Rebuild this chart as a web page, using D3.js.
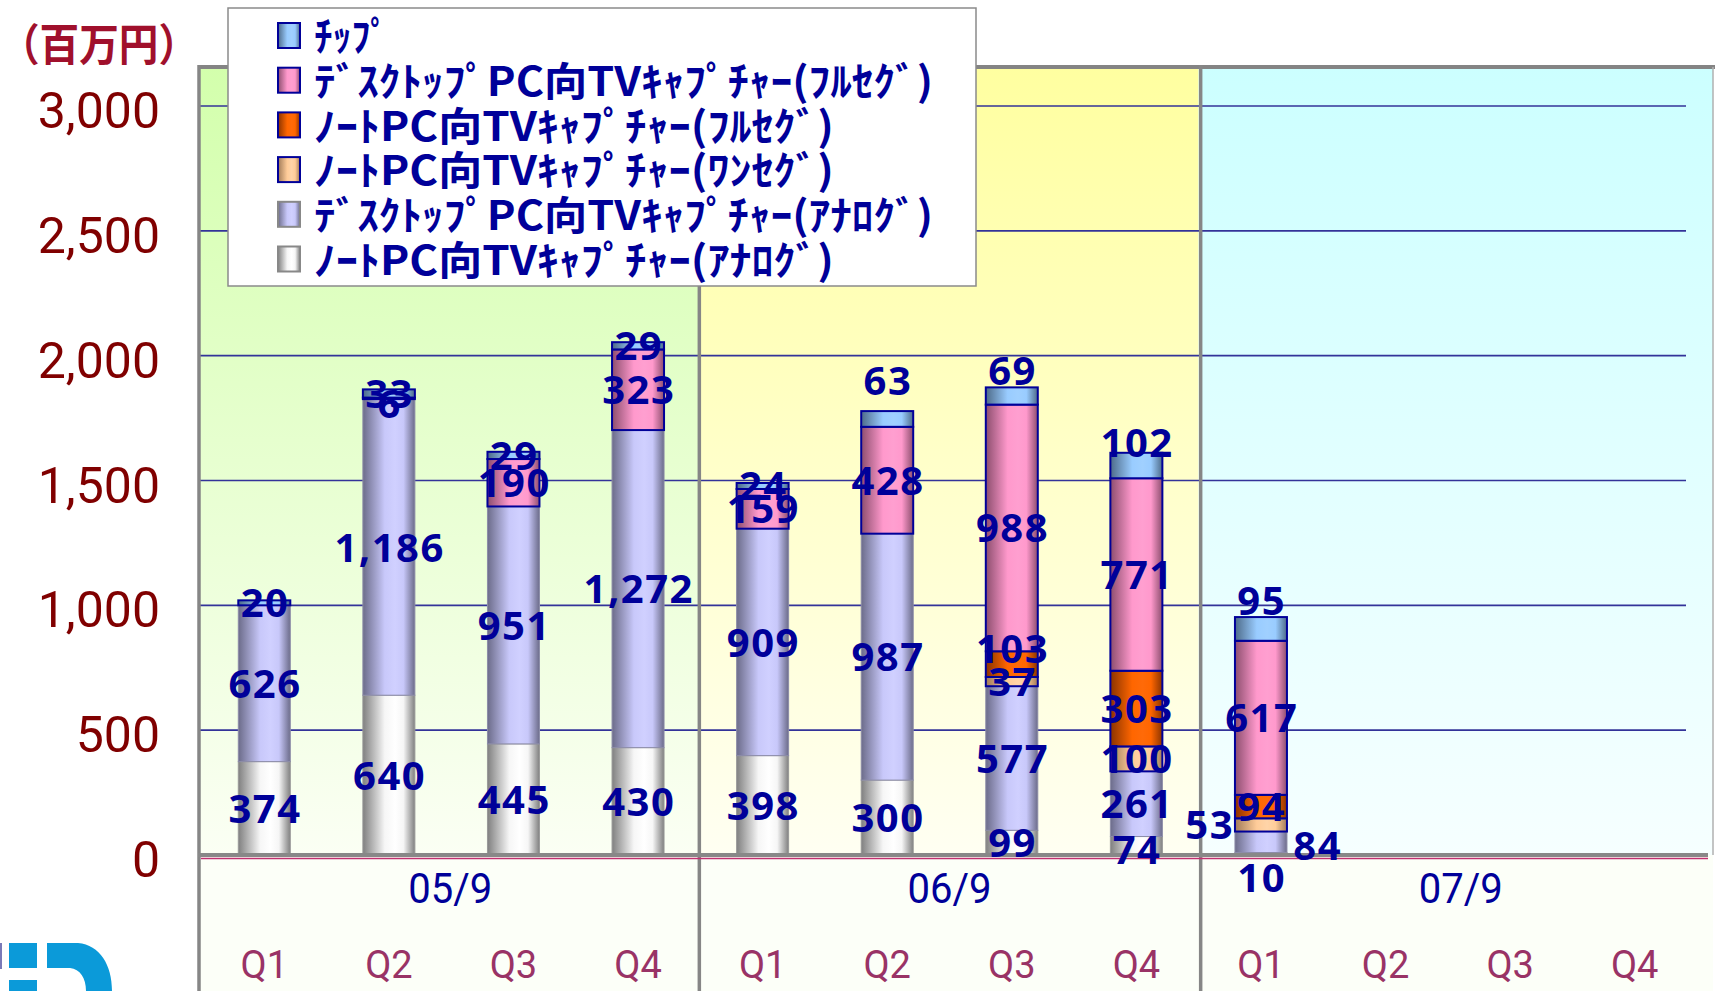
<!DOCTYPE html>
<html><head><meta charset="utf-8">
<script src="https://cdn.jsdelivr.net/npm/d3@7"></script>
<style>html,body{margin:0;padding:0;background:#fff;overflow:hidden}svg{display:block}</style>
</head><body>
<svg id="c" width="1717" height="991"></svg>
<script>
// ---------- DATA ----------
const quarters = ["Q1","Q2","Q3","Q4","Q1","Q2","Q3","Q4","Q1","Q2","Q3","Q4"];
const years = ["05/9","06/9","07/9"];
const yTicks = [0,500,1000,1500,2000,2500,3000];
const unitLabel = "（百万円）";

// stack order bottom -> top
const seriesKeys = ["noteAnalog","deskAnalog","noteOneSeg","noteFullSeg","deskFullSeg","chip"];
const seriesNames = {
  chip: "ﾁｯﾌﾟ",
  deskFullSeg: "ﾃﾞｽｸﾄｯﾌﾟPC向TVｷｬﾌﾟﾁｬｰ(ﾌﾙｾｸﾞ)",
  noteFullSeg: "ﾉｰﾄPC向TVｷｬﾌﾟﾁｬｰ(ﾌﾙｾｸﾞ)",
  noteOneSeg: "ﾉｰﾄPC向TVｷｬﾌﾟﾁｬｰ(ﾜﾝｾｸﾞ)",
  deskAnalog: "ﾃﾞｽｸﾄｯﾌﾟPC向TVｷｬﾌﾟﾁｬｰ(ｱﾅﾛｸﾞ)",
  noteAnalog: "ﾉｰﾄPC向TVｷｬﾌﾟﾁｬｰ(ｱﾅﾛｸﾞ)"
};
const legendOrder = ["chip","deskFullSeg","noteFullSeg","noteOneSeg","deskAnalog","noteAnalog"];

const noteAnalog  = [374, 640, 445, 430, 398, 300,  99,  74,  10];
const deskAnalog  = [626,1186, 951,1272, 909, 987, 577, 261,  84];
const noteOneSeg  = [  0,   0,   0,   0,   0,   0,  37, 100,  53];
const noteFullSeg = [  0,   0,   0,   0,   0,   0, 103, 303,  94];
const deskFullSeg = [  0,   6, 190, 323, 159, 428, 988, 771, 617];
const chip        = [ 20,  33,  29,  29,  24,  63,  69, 102,  95];
const seriesValues = {noteAnalog, deskAnalog, noteOneSeg, noteFullSeg, deskFullSeg, chip};

// ---------- STYLE ----------
const colors = {
  noteAnalog:  {base:"#f6f6f6", light:"#ffffff", dark:"#808080", stroke:"#999999"},
  deskAnalog:  {base:"#c8c8fa", light:"#d0d0ff", dark:"#6c6c8a", stroke:"#8c8ca8"},
  noteOneSeg:  {base:"#ffcc99", light:"#ffd4a8", dark:"#a07a58", stroke:"#000099"},
  noteFullSeg: {base:"#ff6600", light:"#ff6a08", dark:"#8a3300", stroke:"#000099"},
  deskFullSeg: {base:"#ff99cc", light:"#ff9fd0", dark:"#8c4e6e", stroke:"#000099"},
  chip:        {base:"#99ccff", light:"#a0d0ff", dark:"#4d6a88", stroke:"#000099"}
};
// manual label nudges [series, quarterIndex, dx, dy] (pixels)
const labelNudges = [
  ["chip",5,0,-38],["chip",6,0,-25],["chip",7,0,-23],["chip",8,0,-28],
  ["noteFullSeg",6,0,-16],["deskFullSeg",1,0,5],
  ["noteOneSeg",8,-52,0],["deskAnalog",8,56,4],["noteAnalog",8,0,24],["noteAnalog",7,0,4]
];

// ---------- LAYOUT ----------
const W=1717,H=991;
const plotL=200, plotR=1713, plotT=67, axisY=855;
const svg = d3.select("#c");
const defs = svg.append("defs");

const x = d3.scaleBand().domain(d3.range(12)).range([202,1697]);
const y = d3.scaleLinear().domain([0,3000]).range([axisY,106]);
const barW = 52;

// gradients
Object.entries(colors).forEach(([k,c])=>{
  const g = defs.append("linearGradient").attr("id","g_"+k).attr("x1",0).attr("x2",1).attr("y1",0).attr("y2",0);
  g.append("stop").attr("offset","0%").attr("stop-color",c.dark);
  g.append("stop").attr("offset","42%").attr("stop-color",c.base);
  g.append("stop").attr("offset","62%").attr("stop-color",c.light);
  g.append("stop").attr("offset","78%").attr("stop-color",c.base);
  g.append("stop").attr("offset","100%").attr("stop-color",c.dark);
});
const bgDefs = [["bg0","#d3ffac","#fbfff4"],["bg1","#ffffa0","#fffff2"],["bg2","#ccffff","#f6ffff"]];
bgDefs.forEach(([id,top,bot])=>{
  const g = defs.append("linearGradient").attr("id",id).attr("x1",0).attr("x2",0).attr("y1",0).attr("y2",1);
  g.append("stop").attr("offset","0%").attr("stop-color",top);
  g.append("stop").attr("offset","100%").attr("stop-color",bot);
});

const sep1 = x(4), sep2 = x(8);
const groupX = [[plotL,sep1],[sep1,sep2],[sep2,plotR]];

// below-axis background
svg.append("rect").attr("x",plotL).attr("y",axisY).attr("width",plotR-plotL).attr("height",H-axisY).attr("fill","#fcfff8");
// plot backgrounds
groupX.forEach(([a,b],i)=>{
  svg.append("rect").attr("x",a).attr("y",plotT).attr("width",b-a).attr("height",axisY-plotT).attr("fill",`url(#bg${i})`);
});

// gridlines
svg.append("g").selectAll("line").data(yTicks.filter(d=>d>0)).join("line")
  .attr("x1",plotL).attr("x2",1686).attr("y1",d=>y(d)).attr("y2",d=>y(d))
  .attr("stroke","#333399").attr("stroke-width",1.6);

// frame lines
svg.append("line").attr("x1",plotL-1).attr("x2",plotR+2).attr("y1",plotT).attr("y2",plotT).attr("stroke","#848484").attr("stroke-width",4);
svg.append("line").attr("x1",plotR).attr("x2",plotR).attr("y1",plotT).attr("y2",axisY).attr("stroke","#b0b0b0").attr("stroke-width",1.5);
[plotL-1, sep1-1, sep2+2].forEach(xx=>{
  svg.append("line").attr("x1",xx).attr("x2",xx).attr("y1",plotT-2).attr("y2",H).attr("stroke","#868686").attr("stroke-width",3.5);
});

// stacked bars
const rows = d3.range(9).map(i=>{ const r={i}; seriesKeys.forEach(k=>r[k]=seriesValues[k][i]); return r; });
const stacked = d3.stack().keys(seriesKeys)(rows);
const barG = svg.append("g");
stacked.forEach(layer=>{
  const k = layer.key;
  barG.append("g").selectAll("rect").data(layer.filter(d=>d[1]-d[0]>0)).join("rect")
    .attr("x",d=>x(d.data.i)+x.bandwidth()/2-barW/2)
    .attr("width",barW)
    .attr("y",d=>y(d[1]))
    .attr("height",d=>y(d[0])-y(d[1]))
    .attr("fill",`url(#g_${k})`)
    .attr("stroke",colors[k].stroke)
    .attr("stroke-width",k.indexOf("Analog")>=0?1:2);
});

// x axis line
svg.append("line").attr("x1",plotL-2).attr("x2",1708).attr("y1",axisY).attr("y2",axisY).attr("stroke","#888888").attr("stroke-width",4);
svg.append("line").attr("x1",plotL+1).attr("x2",1708).attr("y1",axisY+3.5).attr("y2",axisY+3.5).attr("stroke","#c03070").attr("stroke-width",1.5);

// value labels
const nud = {};
labelNudges.forEach(([k,i,dx,dy])=>nud[k+"_"+i]=[dx,dy]);
const labG = svg.append("g").attr("font-family","'Noto Sans', 'Open Sans', sans-serif").attr("font-weight","bold")
  .attr("font-size",40).attr("letter-spacing",1.5).attr("fill","#000099").attr("text-anchor","middle");
stacked.forEach(layer=>{
  const k = layer.key;
  layer.filter(d=>d[1]-d[0]>0).forEach(d=>{
    const n = nud[k+"_"+d.data.i] || [0,0];
    labG.append("text")
      .attr("x",x(d.data.i)+x.bandwidth()/2+n[0]+0.75)
      .attr("y",y((d[0]+d[1])/2)+n[1])
      .attr("dy","0.36em")
      .text(d3.format(",")(d[1]-d[0]));
  });
});

// y tick labels
svg.append("g").selectAll("text").data(yTicks).join("text")
  .attr("x",160).attr("y",d=>y(d)+4).attr("dy","0.36em")
  .attr("text-anchor","end").attr("font-family","Roboto, sans-serif").attr("font-size",50)
  .attr("fill","#800000").text(d=>d3.format(",")(d));

// unit
svg.append("text").attr("x",0).attr("y",61).attr("font-family","'Noto Sans CJK JP', sans-serif")
  .attr("font-size",44).attr("font-weight",700).attr("fill","#a0102c")
  .attr("textLength",198).attr("lengthAdjust","spacingAndGlyphs").text(unitLabel);

// category labels
svg.append("g").selectAll("text").data(quarters).join("text")
  .attr("x",(d,i)=>x(i)+x.bandwidth()/2).attr("y",964).attr("dy","0.36em")
  .attr("text-anchor","middle").attr("font-family","Roboto, sans-serif").attr("font-size",38)
  .attr("fill","#993366").text(d=>d);
svg.append("g").selectAll("text").data(years).join("text")
  .attr("x",(d,i)=>(groupX[i][0]+groupX[i][1])/2+(i===2?5:0)).attr("y",888).attr("dy","0.36em")
  .attr("text-anchor","middle").attr("font-family","Roboto, sans-serif").attr("font-size",42)
  .attr("fill","#000099").attr("textLength",84).attr("lengthAdjust","spacingAndGlyphs").text(d=>d);

// legend
const lg = svg.append("g");
lg.append("rect").attr("x",228).attr("y",8).attr("width",748).attr("height",278)
  .attr("fill","#ffffff").attr("stroke","#8a8a8a").attr("stroke-width",1.5);
const textW = {chip:75, deskFullSeg:619, noteFullSeg:520, noteOneSeg:520, deskAnalog:619, noteAnalog:520};
legendOrder.forEach((k,i)=>{
  const cy = 36 + i*44.7;
  lg.append("rect").attr("x",278).attr("y",cy-13).attr("width",22).attr("height",25)
    .attr("fill",`url(#g_${k})`).attr("stroke",k.indexOf("Analog")>=0?"#888888":"#000099").attr("stroke-width",2);
  lg.append("text").attr("x",314).attr("y",cy).attr("dy","0.38em")
    .attr("font-family","'Noto Sans CJK JP', sans-serif").attr("font-weight","bold").attr("font-size",40)
    .attr("fill","#000099").attr("textLength",textW[k]).attr("lengthAdjust","spacingAndGlyphs")
    .text(seriesNames[k]);
});

// logo fragment
const logo = svg.append("g").attr("fill","#0b9ad9");
logo.append("rect").attr("x",0).attr("y",943).attr("width",2).attr("height",26).attr("fill","#7a7ab8");
logo.append("rect").attr("x",9).attr("y",943).attr("width",28).attr("height",25);
logo.append("rect").attr("x",9).attr("y",980).attr("width",28).attr("height",11);
logo.append("path").attr("d","M47,943 H78 C100,945 112,965 112,991 H86 C86,978 80,969 70,968 H47 Z");
</script>
</body></html>
